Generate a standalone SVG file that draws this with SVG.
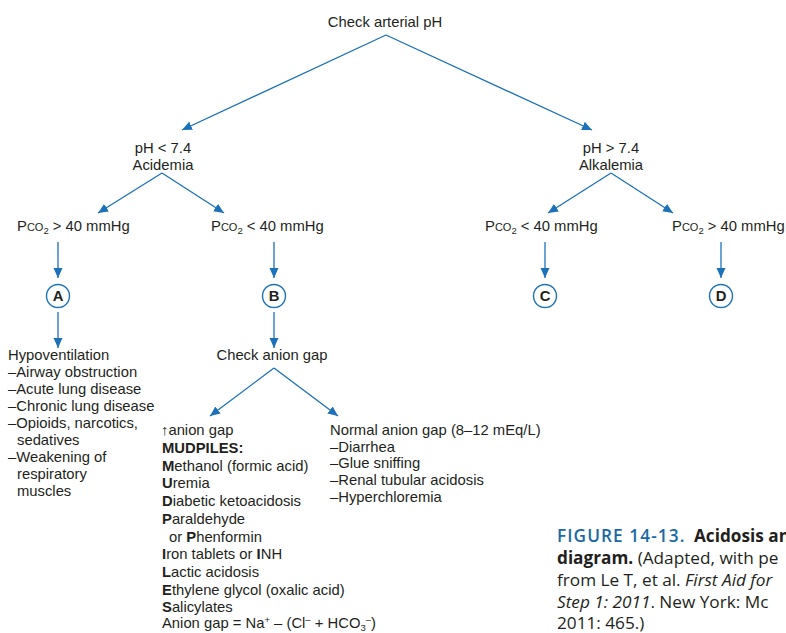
<svg xmlns="http://www.w3.org/2000/svg" width="786" height="633" viewBox="0 0 786 633">
<defs>
<style>
text{font-family:"Liberation Sans",Arial,sans-serif;font-size:14.8px;fill:#231f20}
.b{font-weight:bold}
.m{text-anchor:middle}
.sc{font-size:11px}
.s{font-size:9.5px}
.conn line{stroke:#1d71b8;stroke-width:1.3;marker-end:url(#ah)}
.cir{fill:#fff;stroke:#1d71b8;stroke-width:1.4}
.cap{font-family:"Open Sans","Noto Sans",sans-serif;font-size:17.2px}
.fig{fill:#1a6aa5;font-weight:600;letter-spacing:1.1px}
.i{font-style:italic}
</style>
<marker id="ah" markerUnits="userSpaceOnUse" markerWidth="10" markerHeight="10" viewBox="0 0 10 10" refX="10" refY="5" orient="auto">
<path d="M0,0.5 L10,5 L0,9.5 z" fill="#1d71b8"/>
</marker>
</defs>
<rect width="786" height="633" fill="#fff"/>

<g id="connectors" class="conn">
<line x1="386" y1="35" x2="182" y2="130"/>
<line x1="386" y1="35" x2="592" y2="130"/>
<line x1="162" y1="173" x2="98" y2="213"/>
<line x1="162" y1="173" x2="224" y2="213"/>
<line x1="611" y1="173" x2="548" y2="213"/>
<line x1="611" y1="173" x2="673" y2="213"/>
<line x1="58" y1="242" x2="58" y2="278"/>
<line x1="274" y1="242" x2="274" y2="278"/>
<line x1="545" y1="242" x2="545" y2="278"/>
<line x1="721" y1="242" x2="721" y2="278"/>
<line x1="58" y1="312" x2="58" y2="348"/>
<line x1="274" y1="312" x2="274" y2="348"/>
<line x1="274" y1="368" x2="210" y2="416"/>
<line x1="274" y1="368" x2="338" y2="416"/>
</g>

<g id="check-ph"><text class="m" x="385" y="27">Check arterial pH</text></g>

<g id="acidemia">
<text class="m" x="163" y="153">pH &lt; 7.4</text>
<text class="m" x="163" y="170">Acidemia</text>
</g>
<g id="alkalemia">
<text class="m" x="611" y="153">pH &gt; 7.4</text>
<text class="m" x="611" y="170">Alkalemia</text>
</g>

<g id="pco2-acid-high"><text x="17" y="231">P<tspan class="sc">CO</tspan><tspan class="s" dy="3">2</tspan><tspan dy="-3"> &gt; 40 mmHg</tspan></text></g>
<g id="pco2-acid-low"><text x="211" y="231">P<tspan class="sc">CO</tspan><tspan class="s" dy="3">2</tspan><tspan dy="-3"> &lt; 40 mmHg</tspan></text></g>
<g id="pco2-alk-low"><text x="485" y="231">P<tspan class="sc">CO</tspan><tspan class="s" dy="3">2</tspan><tspan dy="-3"> &lt; 40 mmHg</tspan></text></g>
<g id="pco2-alk-high"><text x="672" y="231">P<tspan class="sc">CO</tspan><tspan class="s" dy="3">2</tspan><tspan dy="-3"> &gt; 40 mmHg</tspan></text></g>

<g id="node-A"><circle class="cir" cx="58" cy="296" r="11.5"/><text class="b m" x="58" y="301">A</text></g>
<g id="node-B"><circle class="cir" cx="274" cy="296" r="11.5"/><text class="b m" x="274" y="301">B</text></g>
<g id="node-C"><circle class="cir" cx="545" cy="296" r="11.5"/><text class="b m" x="545" y="301">C</text></g>
<g id="node-D"><circle class="cir" cx="721" cy="296" r="11.5"/><text class="b m" x="721" y="301">D</text></g>

<g id="hypoventilation">
<text x="8" y="360">Hypoventilation</text>
<text x="8" y="377">–Airway obstruction</text>
<text x="8" y="394">–Acute lung disease</text>
<text x="8" y="411">–Chronic lung disease</text>
<text x="8" y="428">–Opioids, narcotics,</text>
<text x="17" y="445">sedatives</text>
<text x="8" y="462">–Weakening of</text>
<text x="17" y="479">respiratory</text>
<text x="17" y="496">muscles</text>
</g>

<g id="check-anion-gap"><text class="m" x="272" y="360">Check anion gap</text></g>

<g id="high-anion-gap">
<text x="161" y="435">↑anion gap</text>
<text class="b" x="162" y="453">MUDPILES:</text>
<text x="162" y="470.5"><tspan class="b">M</tspan>ethanol (formic acid)</text>
<text x="162" y="488"><tspan class="b">U</tspan>remia</text>
<text x="162" y="506"><tspan class="b">D</tspan>iabetic ketoacidosis</text>
<text x="162" y="524"><tspan class="b">P</tspan>araldehyde</text>
<text x="169" y="541.5">or <tspan class="b">P</tspan>henformin</text>
<text x="162" y="559"><tspan class="b">I</tspan>ron tablets or <tspan class="b">I</tspan>NH</text>
<text x="162" y="577"><tspan class="b">L</tspan>actic acidosis</text>
<text x="162" y="594.5"><tspan class="b">E</tspan>thylene glycol (oxalic acid)</text>
<text x="162" y="611.5"><tspan class="b">S</tspan>alicylates</text>
<text x="162" y="628">Anion gap = Na<tspan class="s" dy="-5">+</tspan><tspan dy="5"> – (Cl</tspan><tspan class="s" dy="-5">–</tspan><tspan dy="5"> + HCO</tspan><tspan class="s" dy="2.5">3</tspan><tspan class="s" dy="-7.5">–</tspan><tspan dy="5">)</tspan></text>
</g>

<g id="normal-anion-gap">
<text x="330" y="435">Normal anion gap (8–12 mEq/L)</text>
<text x="330" y="451.7">–Diarrhea</text>
<text x="330" y="468.4">–Glue sniffing</text>
<text x="330" y="485.1">–Renal tubular acidosis</text>
<text x="330" y="501.8">–Hyperchloremia</text>
</g>

<g id="caption">
<text class="cap" x="557" y="542"><tspan class="fig">FIGURE 14-13.</tspan><tspan class="b" x="694">Acidosis an</tspan></text>
<text class="cap" x="557" y="564"><tspan class="b">diagram.</tspan> (Adapted, with pe</text>
<text class="cap" x="557" y="586">from Le T, et al. <tspan class="i">First Aid for</tspan></text>
<text class="cap" x="557" y="607.5"><tspan class="i">Step 1: 2011</tspan>. New York: Mc</text>
<text class="cap" x="557" y="629">2011: 465.)</text>
</g>
</svg>
